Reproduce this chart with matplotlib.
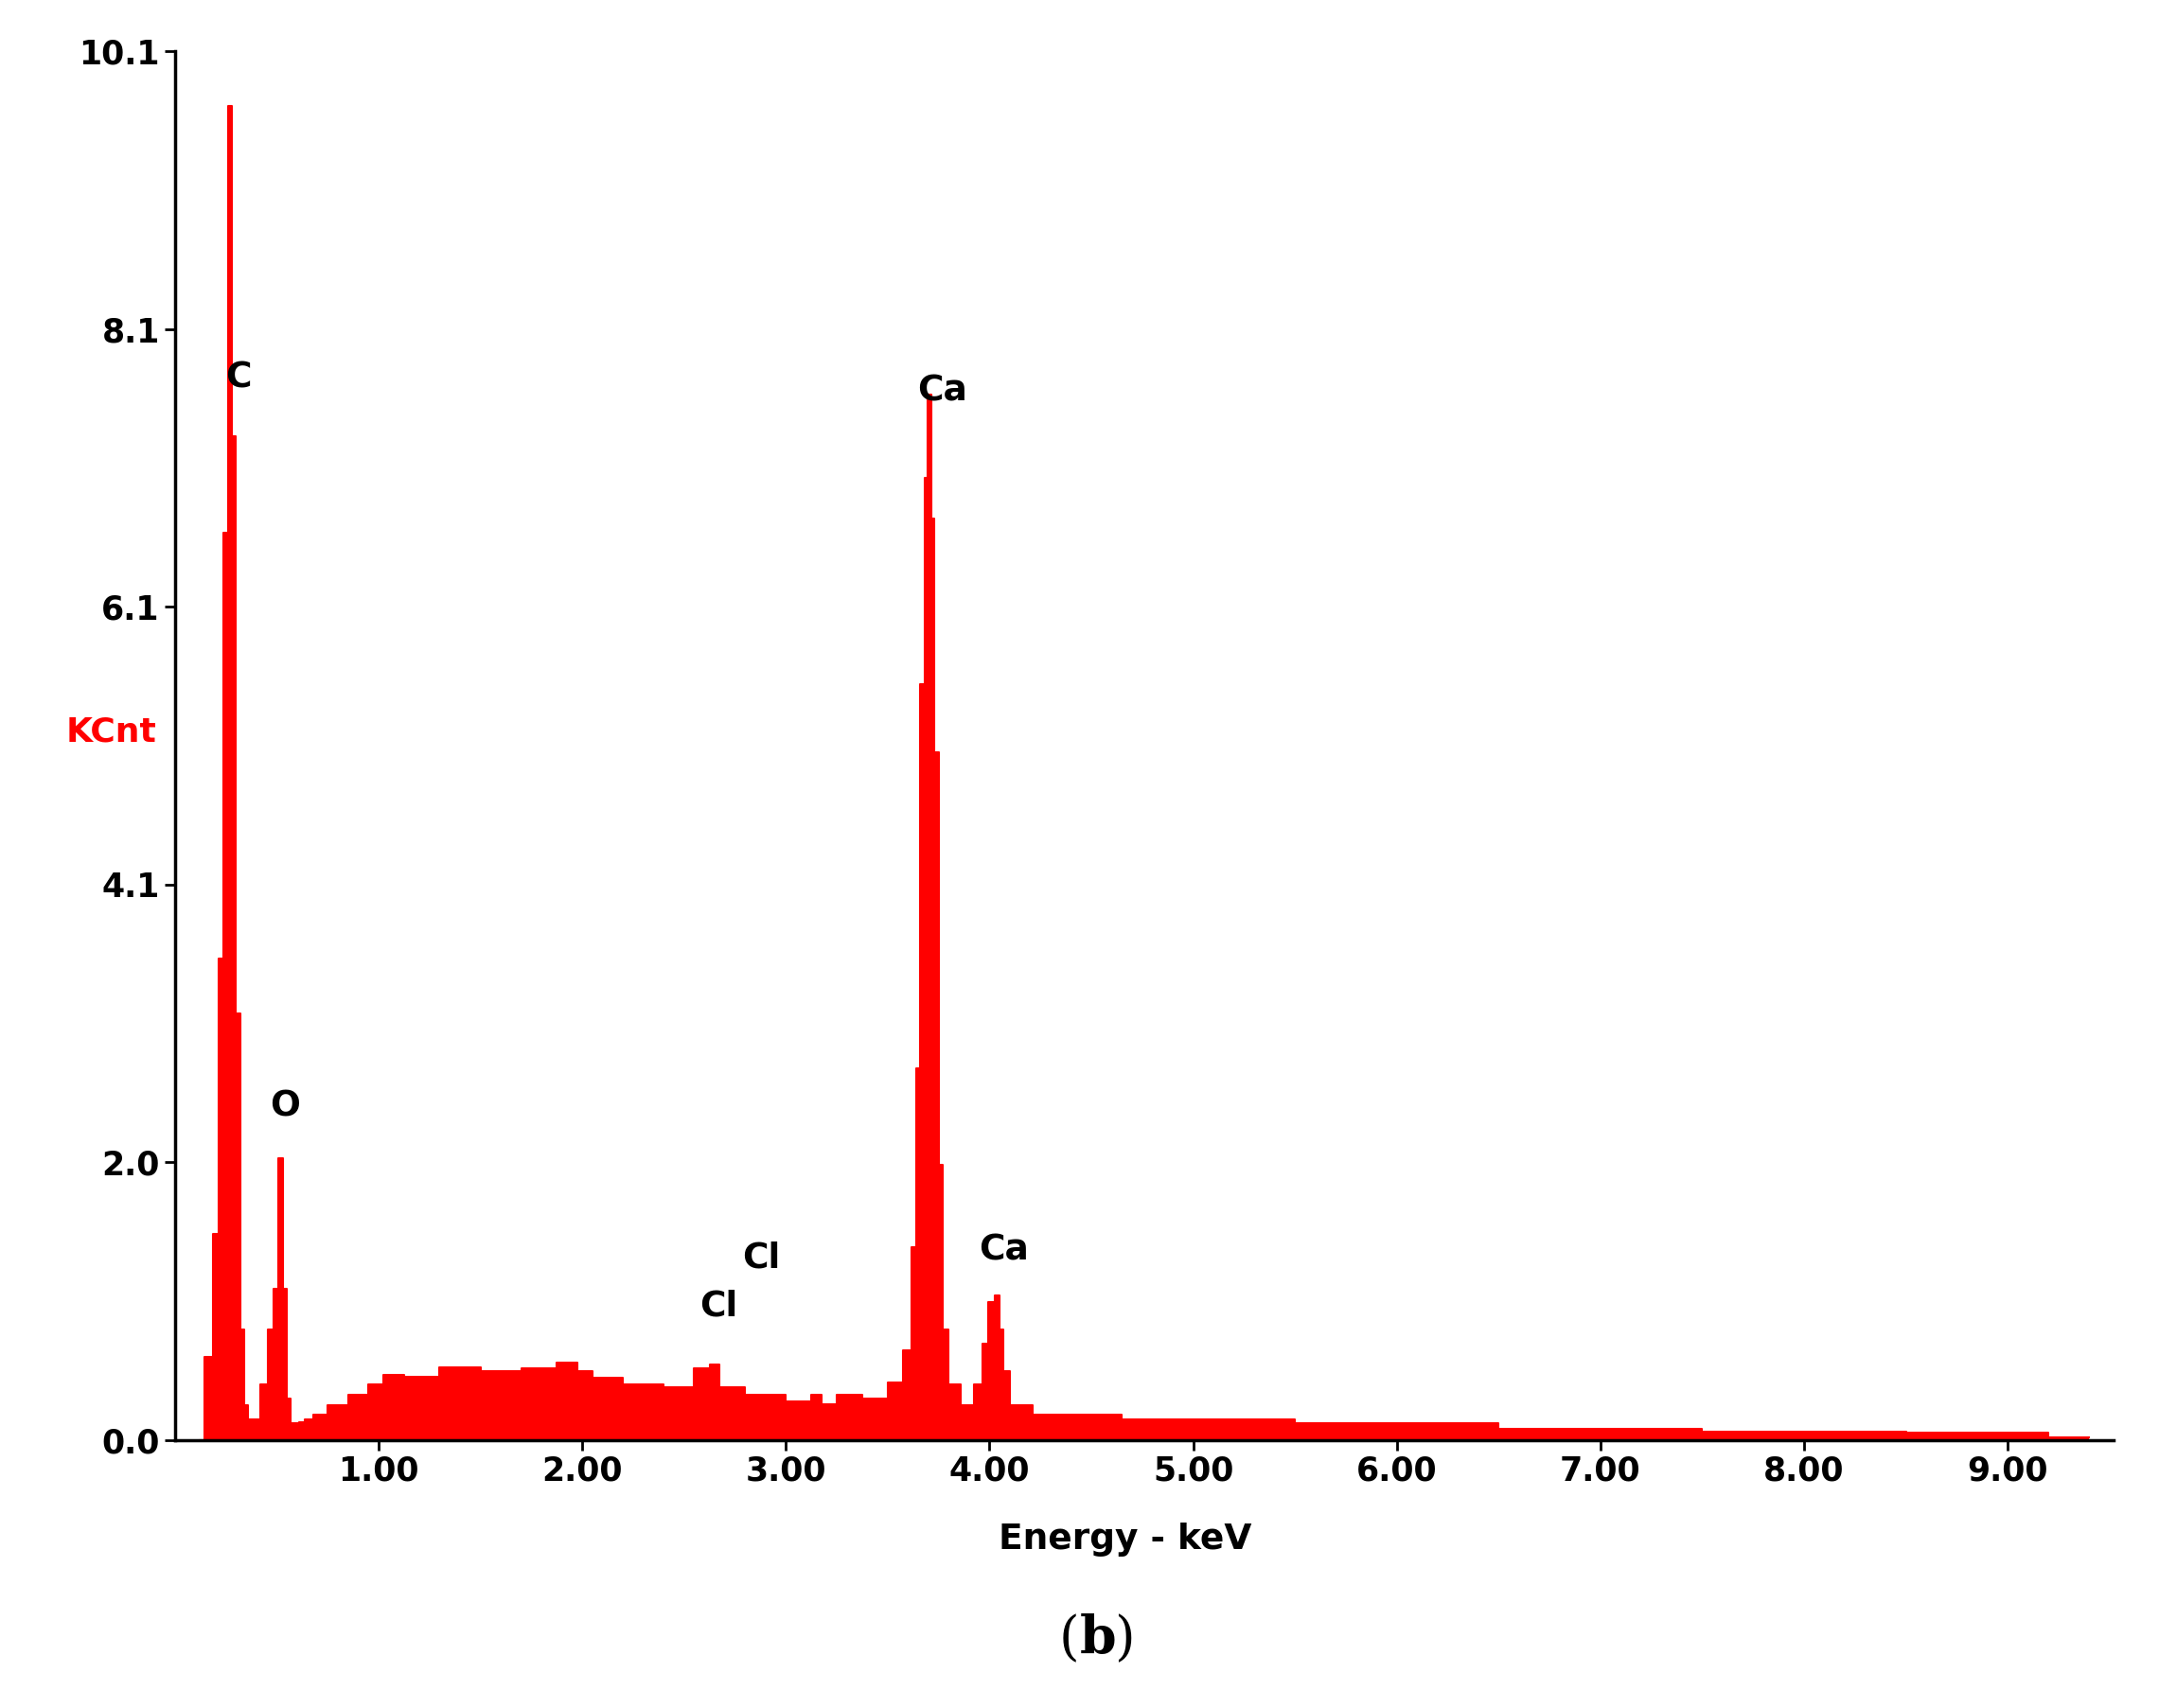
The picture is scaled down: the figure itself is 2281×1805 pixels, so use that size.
import numpy as np
import matplotlib
matplotlib.use("Agg")
import matplotlib.pyplot as plt

RED = "#FF0000"

# spectrum: (energy keV, kilo-counts)
energy = [0.12, 0.17, 0.20, 0.23, 0.25, 0.27, 0.29, 0.31, 0.33, 0.35, 0.37, 0.40, 0.44,
          0.47, 0.50, 0.52, 0.54, 0.56, 0.58, 0.60, 0.62, 0.66, 0.70, 0.80, 0.90, 1.00,
          1.05, 1.20, 1.40, 1.60, 1.80, 1.95, 2.00, 2.10, 2.30, 2.50, 2.60, 2.65, 2.70,
          2.90, 3.10, 3.15, 3.20, 3.30, 3.45, 3.55, 3.60, 3.63, 3.65, 3.67, 3.69, 3.705,
          3.72, 3.74, 3.76, 3.78, 3.82, 3.90, 3.95, 3.98, 4.01, 4.04, 4.06, 4.08, 4.12,
          4.30, 5.00, 6.00, 7.00, 8.00, 9.00, 9.40]
counts = [0.0, 0.6, 1.5, 3.5, 6.6, 9.7, 7.3, 3.1, 0.8, 0.25, 0.15, 0.15, 0.4,
          0.8, 1.1, 2.05, 1.1, 0.3, 0.12, 0.12, 0.13, 0.15, 0.18, 0.25, 0.33, 0.4,
          0.47, 0.46, 0.53, 0.5, 0.52, 0.56, 0.5, 0.45, 0.4, 0.38, 0.52, 0.55, 0.38,
          0.33, 0.28, 0.33, 0.26, 0.33, 0.3, 0.42, 0.65, 1.4, 2.7, 5.5, 7.0, 7.6,
          6.7, 5.0, 2.0, 0.8, 0.4, 0.25, 0.4, 0.7, 1.0, 1.05, 0.8, 0.5, 0.25,
          0.18, 0.15, 0.12, 0.08, 0.06, 0.05, 0.02]

peak_labels = [("C", 0.31, 7.6), ("O", 0.54, 2.3), ("Cl", 2.67, 0.85), ("Cl", 2.88, 1.2),
               ("Ca", 3.77, 7.5), ("Ca", 4.07, 1.25)]
ytick_vals = [0.0, 2.02, 4.04, 6.06, 8.08, 10.1]
ytick_text = ["0.0", "2.0", "4.1", "6.1", "8.1", "10.1"]
xtick_vals = [1, 2, 3, 4, 5, 6, 7, 8, 9]

fig = plt.figure(figsize=(22.81, 18.05), dpi=100)
ax = fig.add_axes([0.081, 0.157, 0.898, 0.813])
edges = np.array(energy)
ax.fill_between(edges, counts, 0, color=RED, linewidth=0, step="mid")
ax.step(edges, counts, where="mid", color=RED, linewidth=1.5)

for txt, x, y in peak_labels:
    ax.text(x, y, txt, ha="center", va="bottom", fontsize=27, fontweight="bold")

ax.set_xlim(0, 9.52)
ax.set_ylim(0, 10.1)
ax.set_yticks(ytick_vals)
ax.set_yticklabels(ytick_text)
ax.set_xticks(xtick_vals)
ax.set_xticklabels([f"{v:.2f}" for v in xtick_vals])
ax.tick_params(labelsize=25, width=2, length=8)
for lbl in ax.get_xticklabels() + ax.get_yticklabels():
    lbl.set_fontweight("bold")
ax.spines[["top", "right"]].set_visible(False)
ax.spines[["left", "bottom"]].set_linewidth(2.5)

ax.text(-0.033, 5.15, "KCnt", color=RED, fontsize=26, fontweight="bold",
        ha="center", va="center", transform=ax.get_yaxis_transform())
ax.text(0.49, -0.072, "Energy - keV", fontsize=27, fontweight="bold",
        ha="center", va="center", transform=ax.transAxes)
fig.text(0.5, 0.04, "(", fontsize=40, family="DejaVu Serif", ha="right", va="center")
fig.text(0.5, 0.04, "b", fontsize=40, family="DejaVu Serif", fontweight="bold", ha="left", va="center")
fig.text(0.516, 0.04, ")", fontsize=40, family="DejaVu Serif", ha="left", va="center")

fig.savefig("out.png", dpi=100, facecolor="white")
